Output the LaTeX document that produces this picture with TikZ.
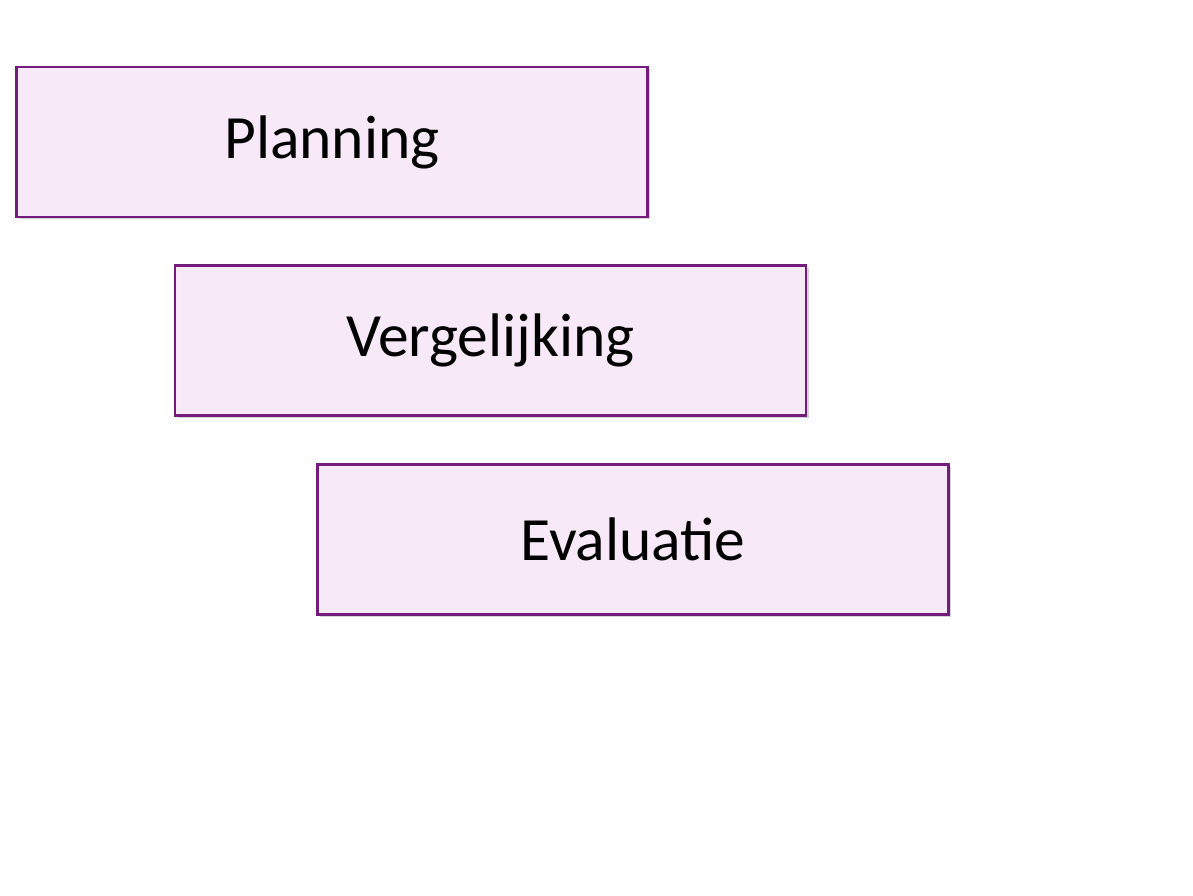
\documentclass[tikz,border=0pt]{standalone}
\usepackage{fontspec}
\setmainfont{Carlito}
\usetikzlibrary{positioning,shadows}
\definecolor{stepfill}{HTML}{F8E9F8}
\definecolor{stepdraw}{HTML}{741C7C}
\tikzset{
  stage/.style={minimum width=12.62cm,minimum height=3cm,draw=stepdraw,line width=1.2pt,
    fill=stepfill,drop shadow={shadow xshift=0.05cm,shadow yshift=-0.05cm,opacity=0.35},
    font=\fontsize{35}{40}\selectfont}
}
\begin{document}
\begin{tikzpicture}
	\useasboundingbox (0,0) rectangle (23.86,17.92);
	\node[stage] (plan) at (6.64,15.08) {Planning};
	\node[stage] (verg) at (9.81,11.11) {Vergelijking};
	\node[stage] (eval) at (12.66,7.13) {Evaluatie};
\end{tikzpicture}
\end{document}
